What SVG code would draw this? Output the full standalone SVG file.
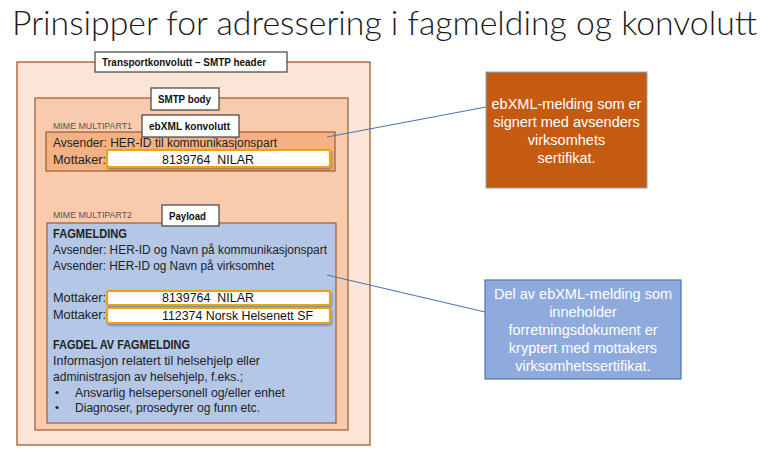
<svg xmlns="http://www.w3.org/2000/svg" width="768" height="461" viewBox="0 0 768 461">
<style>
text{font-family:"Liberation Sans",Arial,sans-serif;}
.title{font-family:Lato,"Open Sans","Liberation Sans",sans-serif;font-weight:300;}
.t{font-size:12.5px;fill:#222;}
.b{font-weight:bold;}
.lbl{font-size:10.5px;font-weight:bold;fill:#111;}
.lbox{fill:#fff;stroke:#404040;stroke-width:1.2;}
.mime{font-size:9px;fill:#555;}
.wb{fill:#fff;stroke:#E8A317;stroke-width:2.2;}
.wt{font-size:13px;fill:#111;}
.ct{font-size:14.5px;fill:#fff;text-anchor:middle;}
.conn{stroke:#4F74B8;stroke-width:1.1;fill:none;}
</style>
<defs>
<filter id="sh" x="-5%" y="-30%" width="110%" height="160%"><feDropShadow dx="1" dy="1.5" stdDeviation="0.8" flood-color="#000" flood-opacity="0.35"/></filter>
</defs>
<rect width="768" height="461" fill="#fff"/>
<text class="title" x="12" y="35" font-size="34" fill="#1a1a1a" textLength="745" lengthAdjust="spacingAndGlyphs">Prinsipper for adressering i fagmelding og konvolutt</text>

<g id="transport">
<rect x="17" y="62" width="353" height="383" fill="#FBE5D6" stroke="#A65A30" stroke-width="1.3"/>
<rect class="lbox" x="95" y="52" width="192" height="20"/>
<text class="lbl" x="102" y="66" textLength="164" lengthAdjust="spacingAndGlyphs">Transportkonvolutt – SMTP header</text>
</g>

<g id="smtpbody">
<rect x="35" y="98" width="313" height="332" fill="#F8CBAD" stroke="#9E5A30" stroke-width="1.2"/>
<rect class="lbox" x="151" y="88" width="68" height="22"/>
<text class="lbl" x="158" y="103" textLength="53" lengthAdjust="spacingAndGlyphs">SMTP body</text>
</g>

<g id="multipart1">
<text class="mime" x="53" y="129" textLength="79" lengthAdjust="spacingAndGlyphs">MIME MULTIPART1</text>
<rect x="46" y="132" width="289" height="39" fill="#F4B183" stroke="#9E5A30" stroke-width="1.2"/>
<rect class="lbox" x="142" y="115" width="97" height="22"/>
<text class="lbl" x="149" y="130" textLength="81" lengthAdjust="spacingAndGlyphs">ebXML konvolutt</text>
<text class="t" x="53" y="147" textLength="224" lengthAdjust="spacingAndGlyphs">Avsender: HER-ID til kommunikasjonspart</text>
<text class="t" x="53" y="164" textLength="53" lengthAdjust="spacingAndGlyphs">Mottaker:</text>
<rect class="wb" x="107" y="150" width="223" height="17" rx="2" filter="url(#sh)"/>
<text class="wt" x="162" y="164" xml:space="preserve" textLength="92" lengthAdjust="spacingAndGlyphs">8139764  NILAR</text>
</g>

<g id="multipart2">
<text class="mime" x="53" y="218" textLength="79" lengthAdjust="spacingAndGlyphs">MIME MULTIPART2</text>
<rect x="47" y="223" width="289" height="200" fill="#B4C7E7" stroke="#9E5A30" stroke-width="1.2"/>
<rect class="lbox" x="162" y="205" width="57" height="21"/>
<text class="lbl" x="169" y="220" textLength="37" lengthAdjust="spacingAndGlyphs">Payload</text>
<text class="t b" x="53" y="238" textLength="74" lengthAdjust="spacingAndGlyphs">FAGMELDING</text>
<text class="t" x="53" y="254" textLength="274" lengthAdjust="spacingAndGlyphs">Avsender: HER-ID og Navn på kommunikasjonspart</text>
<text class="t" x="53" y="270" textLength="221" lengthAdjust="spacingAndGlyphs">Avsender: HER-ID og Navn på virksomhet</text>
<text class="t" x="53" y="302" textLength="53" lengthAdjust="spacingAndGlyphs">Mottaker:</text>
<rect class="wb" x="107" y="291" width="223" height="14" rx="2" filter="url(#sh)"/>
<text class="wt" x="162" y="302" xml:space="preserve" textLength="92" lengthAdjust="spacingAndGlyphs">8139764  NILAR</text>
<text class="t" x="53" y="319" textLength="53" lengthAdjust="spacingAndGlyphs">Mottaker:</text>
<rect class="wb" x="107" y="308" width="223" height="15" rx="2" filter="url(#sh)"/>
<text class="wt" x="162" y="320" textLength="151" lengthAdjust="spacingAndGlyphs">112374 Norsk Helsenett SF</text>
<text class="t b" x="53" y="349" textLength="137" lengthAdjust="spacingAndGlyphs">FAGDEL AV FAGMELDING</text>
<text class="t" x="53" y="365" textLength="207" lengthAdjust="spacingAndGlyphs">Informasjon relatert til helsehjelp eller</text>
<text class="t" x="53" y="381" textLength="190" lengthAdjust="spacingAndGlyphs">administrasjon av helsehjelp, f.eks.;</text>
<circle cx="57" cy="392.5" r="1.6" fill="#222"/>
<text class="t" x="75" y="397" textLength="210" lengthAdjust="spacingAndGlyphs">Ansvarlig helsepersonell og/eller enhet</text>
<circle cx="57" cy="407.5" r="1.6" fill="#222"/>
<text class="t" x="75" y="412" textLength="185" lengthAdjust="spacingAndGlyphs">Diagnoser, prosedyrer og funn etc.</text>
</g>

<g id="connectors">
<line class="conn" x1="327" y1="137" x2="486" y2="107"/>
<line class="conn" x1="327" y1="275" x2="485" y2="312"/>
</g>

<g id="note-ebxml">
<rect x="486" y="72" width="161" height="116" fill="#C55A11" stroke="#8FA3C8" stroke-width="1"/>
<text class="ct" x="566.5" y="109">ebXML-melding som er</text>
<text class="ct" x="566.5" y="127">signert med avsenders</text>
<text class="ct" x="566.5" y="145">virksomhets</text>
<text class="ct" x="566.5" y="163">sertifikat.</text>
</g>

<g id="note-payload">
<rect x="485" y="280" width="196" height="99" fill="#8FAADC" stroke="#4F74B8" stroke-width="1.2"/>
<text class="ct" x="583" y="299">Del av ebXML-melding som</text>
<text class="ct" x="583" y="317">inneholder</text>
<text class="ct" x="583" y="335">forretningsdokument er</text>
<text class="ct" x="583" y="353">kryptert med mottakers</text>
<text class="ct" x="583" y="371">virksomhetssertifikat.</text>
</g>
</svg>
